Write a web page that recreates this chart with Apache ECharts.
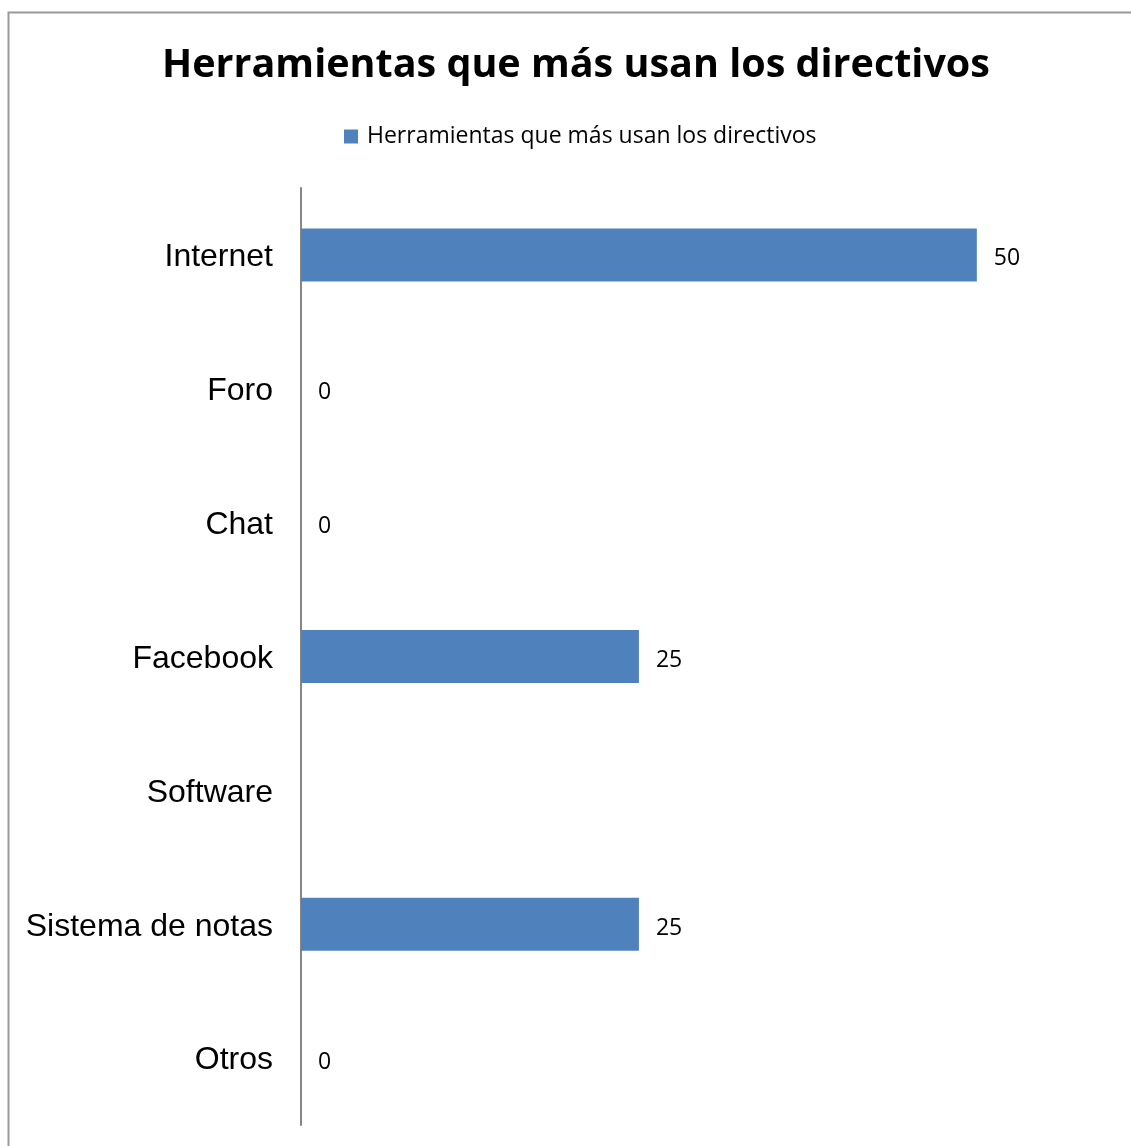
<!DOCTYPE html>
<html>
<head>
<meta charset="utf-8">
<script src="https://cdn.jsdelivr.net/npm/echarts@6/dist/echarts.min.js"></script>
<style>
  html, body { margin: 0; padding: 0; background: #fff; }
  #chart { width: 1131px; height: 1146px; }
</style>
</head>
<body>
<div id="chart"></div>
<script>
// Tools most used by school directors
const categories = ['Internet', 'Foro', 'Chat', 'Facebook', 'Software', 'Sistema de notas', 'Otros'];
const values = [50, 0, 0, 25, null, 25, 0];
const seriesName = 'Herramientas que más usan los directivos';
const titleText = 'Herramientas que más usan los directivos';

const chart = echarts.init(document.getElementById('chart'));
chart.setOption({
  backgroundColor: '#ffffff',
  animation: false,
  graphic: [{
    type: 'rect',
    shape: { x: 8.5, y: 12.5, width: 1200, height: 1200 },
    style: { fill: 'none', stroke: '#999999', lineWidth: 2 },
    silent: true
  }],
  title: {
    text: titleText,
    left: 571,
    top: 41,
    textAlign: 'center',
    textStyle: {
      fontFamily: 'Open Sans',
      fontWeight: 'bold',
      fontSize: 39.5,
      color: '#000000'
    }
  },
  legend: {
    left: 339,
    top: 120,
    itemWidth: 14,
    itemHeight: 14,
    itemGap: 10,
    icon: 'rect',
    textStyle: {
      fontFamily: 'Open Sans',
      fontSize: 23,
      color: '#000000',
      padding: [0, 0, 0, 4]
    },
    data: [seriesName]
  },
  grid: {
    left: 301,
    top: 188,
    right: 19,
    bottom: 21,
    containLabel: false
  },
  xAxis: {
    type: 'value',
    min: 0,
    max: 60,
    show: false
  },
  yAxis: {
    type: 'category',
    inverse: true,
    data: categories,
    axisLine: { show: true, lineStyle: { color: '#868686', width: 2 } },
    axisTick: { show: false },
    splitLine: { show: false },
    axisLabel: {
      margin: 28,
      formatter: '{c|{value}}',
      rich: {
        c: {
          fontFamily: 'Liberation Sans',
          fontSize: 32,
          color: '#000000',
          padding: [5, 0, 0, 0]
        }
      }
    }
  },
  series: [{
    name: seriesName,
    type: 'bar',
    data: values,
    barWidth: 53,
    itemStyle: { color: '#4F81BD' },
    label: {
      show: true,
      position: 'right',
      distance: 17,
      offset: [0, 4],
      fontFamily: 'Open Sans',
      fontSize: 23,
      color: '#000000'
    }
  }]
});
</script>
</body>
</html>
